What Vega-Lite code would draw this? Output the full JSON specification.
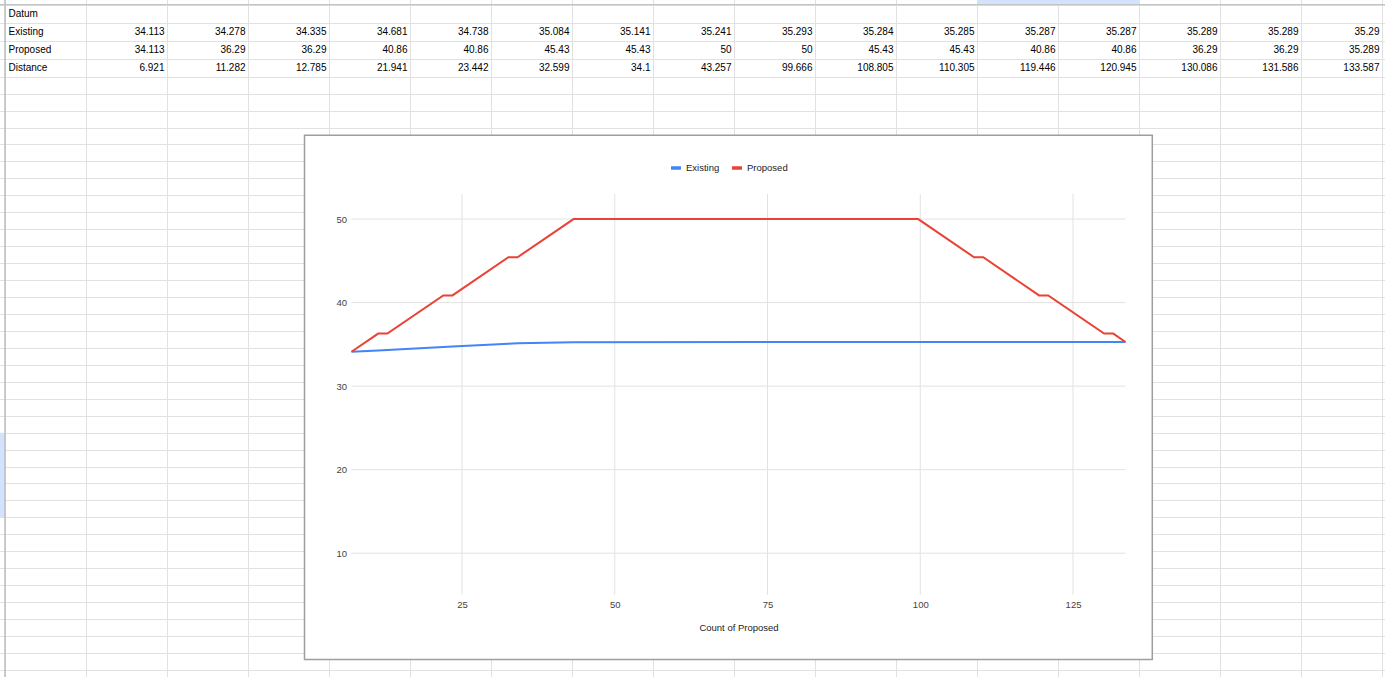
{
  "$schema": "https://vega.github.io/schema/vega-lite/v6.json",
  "width": 1385,
  "height": 677,
  "padding": 0,
  "autosize": {"type": "none"},
  "background": "white",
  "config": {"view": {"stroke": null}, "font": "Liberation Sans"},
  "datasets": {
    "points": [
      {"n": 1, "Distance": 6.921, "Existing": 34.113, "Proposed": 34.113},
      {"n": 2, "Distance": 11.282, "Existing": 34.278, "Proposed": 36.29},
      {"n": 3, "Distance": 12.785, "Existing": 34.335, "Proposed": 36.29},
      {"n": 4, "Distance": 21.941, "Existing": 34.681, "Proposed": 40.86},
      {"n": 5, "Distance": 23.442, "Existing": 34.738, "Proposed": 40.86},
      {"n": 6, "Distance": 32.599, "Existing": 35.084, "Proposed": 45.43},
      {"n": 7, "Distance": 34.1, "Existing": 35.141, "Proposed": 45.43},
      {"n": 8, "Distance": 43.257, "Existing": 35.241, "Proposed": 50},
      {"n": 9, "Distance": 99.666, "Existing": 35.293, "Proposed": 50},
      {"n": 10, "Distance": 108.805, "Existing": 35.284, "Proposed": 45.43},
      {"n": 11, "Distance": 110.305, "Existing": 35.285, "Proposed": 45.43},
      {"n": 12, "Distance": 119.446, "Existing": 35.287, "Proposed": 40.86},
      {"n": 13, "Distance": 120.945, "Existing": 35.287, "Proposed": 40.86},
      {"n": 14, "Distance": 130.086, "Existing": 35.289, "Proposed": 36.29},
      {"n": 15, "Distance": 131.586, "Existing": 35.289, "Proposed": 36.29},
      {"n": 16, "Distance": 133.587, "Existing": 35.29, "Proposed": 35.289}
    ],
    "labels": [
      {"row": 1, "label": "Datum"},
      {"row": 2, "label": "Existing"},
      {"row": 3, "label": "Proposed"},
      {"row": 4, "label": "Distance"}
    ],
    "xgrid": [{"v": 25}, {"v": 50}, {"v": 75}, {"v": 100}, {"v": 125}],
    "ygrid": [{"v": 10}, {"v": 20}, {"v": 30}, {"v": 40}, {"v": 50}]
  },
  "layer": [
    {
      "layer": [
        {
          "data": {"values": [{}]},
          "mark": {"type": "rect", "fill": "#d3e3fd"},
          "encoding": {
            "x": {"datum": 11, "type": "quantitative", "scale": {"domain": [-2, 17], "range": [-76, 1463], "zero": false, "nice": false}},
            "x2": {"datum": 13},
            "y": {"datum": 0, "type": "quantitative", "scale": {"domain": [0, 4.5, 40], "range": [-4.3, 76.7, 678.4], "zero": false, "nice": false}},
            "y2": {"datum": 0.5}
          }
        },
        {
          "data": {"values": [{}]},
          "mark": {"type": "rect", "fill": "#d3e3fd"},
          "encoding": {
            "x": {"datum": -2, "type": "quantitative"},
            "x2": {"datum": -1},
            "y": {"datum": 25.5, "type": "quantitative"},
            "y2": {"datum": 30.5}
          }
        },
        {
          "data": {"values": [{}]},
          "mark": {"type": "rule", "stroke": "#bdbdbd", "strokeWidth": 1.5},
          "encoding": {
            "x": {"datum": -1, "type": "quantitative"},
            "y": {"datum": 0, "type": "quantitative"},
            "y2": {"datum": 40}
          }
        },
        {
          "data": {"values": [{}]},
          "mark": {"type": "rule", "stroke": "#c4c4c4", "strokeWidth": 1.2},
          "encoding": {
            "x": {"datum": -2, "type": "quantitative"},
            "x2": {"datum": 17},
            "y": {"datum": 0.5, "type": "quantitative"}
          }
        },
        {
          "data": {"name": "labels"},
          "mark": {"type": "text", "align": "left", "baseline": "middle", "dx": 3.5, "fontSize": 10, "color": "#000000"},
          "encoding": {
            "x": {"datum": -1, "type": "quantitative",
              "axis": {"orient": "bottom", "values": [-1, 0, 1, 2, 3, 4, 5, 6, 7, 8, 9, 10, 11, 12, 13, 14, 15, 16], "tickCount": 200, "grid": true, "gridColor": "#e1e1e1", "gridWidth": 1, "labels": false, "ticks": false, "domain": false, "title": null, "zindex": 0}},
            "y": {"field": "row", "type": "quantitative",
              "axis": {"orient": "left", "values": [0.5, 1.5, 2.5, 3.5, 4.5, 5.5, 6.5, 7.5, 8.5, 9.5, 10.5, 11.5, 12.5, 13.5, 14.5, 15.5, 16.5, 17.5, 18.5, 19.5, 20.5, 21.5, 22.5, 23.5, 24.5, 25.5, 26.5, 27.5, 28.5, 29.5, 30.5, 31.5, 32.5, 33.5, 34.5, 35.5, 36.5, 37.5, 38.5, 39.5], "tickCount": 200, "grid": true, "gridColor": "#e1e1e1", "gridWidth": 1, "labels": false, "ticks": false, "domain": false, "title": null, "zindex": 0}},
            "text": {"field": "label", "type": "nominal"}
          }
        },
        {
          "data": {"name": "points"},
          "transform": [
            {"fold": ["Existing", "Proposed", "Distance"], "as": ["key", "value"]},
            {"lookup": "key", "from": {"data": {"name": "labels"}, "key": "label", "fields": ["row"]}}
          ],
          "mark": {"type": "text", "align": "right", "baseline": "middle", "dx": -2.5, "fontSize": 10, "color": "#000000"},
          "encoding": {
            "x": {"field": "n", "type": "quantitative"},
            "y": {"field": "row", "type": "quantitative"},
            "text": {"field": "value", "type": "nominal"}
          }
        }
      ]
    },
    {
      "layer": [
        {
          "data": {"values": [{}]},
          "mark": {"type": "rect", "fill": "white", "stroke": "#9e9e9e", "strokeWidth": 1.5},
          "encoding": {
            "x": {"datum": -0.771, "type": "quantitative", "scale": {"domain": [6.921, 133.587], "range": [351.5, 1125.5], "zero": false, "nice": false}},
            "x2": {"datum": 137.97},
            "y": {"datum": 60.03, "type": "quantitative", "scale": {"domain": [5, 53], "range": [595, 194], "zero": false, "nice": false}},
            "y2": {"datum": -2.72}
          }
        },
        {
          "data": {"name": "ygrid"},
          "mark": {"type": "rule", "stroke": "#e2e2e2", "strokeWidth": 1},
          "encoding": {
            "y": {"field": "v", "type": "quantitative"},
            "x": {"datum": 6.921, "type": "quantitative"},
            "x2": {"datum": 133.587}
          }
        },
        {
          "data": {"name": "xgrid"},
          "mark": {"type": "rule", "stroke": "#e2e2e2", "strokeWidth": 1},
          "encoding": {
            "x": {"field": "v", "type": "quantitative"},
            "y": {"datum": 5, "type": "quantitative"},
            "y2": {"datum": 53}
          }
        },
        {
          "data": {"name": "points"},
          "transform": [{"fold": ["Existing", "Proposed"], "as": ["key", "value"]}],
          "mark": {"type": "line", "strokeWidth": 2},
          "encoding": {
            "x": {"field": "Distance", "type": "quantitative",
              "axis": {"orient": "bottom", "offset": -82, "values": [25, 50, 75, 100, 125], "grid": false, "domain": false, "ticks": false, "labelPadding": 4, "labelFontSize": 9.5, "labelColor": "#444444", "labelFont": "Liberation Sans", "title": "Count of Proposed", "titleFont": "Liberation Sans", "titleFontSize": 9.5, "titleFontWeight": "normal", "titleColor": "#222222", "titlePadding": 14, "zindex": 1}},
            "y": {"field": "value", "type": "quantitative",
              "axis": {"orient": "left", "offset": -351.5, "values": [10, 20, 30, 40, 50], "grid": false, "domain": false, "ticks": false, "labelPadding": 5, "labelFontSize": 9.5, "labelColor": "#444444", "labelFont": "Liberation Sans", "title": null, "zindex": 1}},
            "color": {"field": "key", "type": "nominal",
              "scale": {"domain": ["Existing", "Proposed"], "range": ["#4285f4", "#ea4335"]},
              "legend": {"orient": "none", "legendX": 669, "legendY": 161, "direction": "horizontal", "title": null, "symbolType": "stroke", "symbolSize": 100, "symbolStrokeWidth": 3.5, "labelFontSize": 9.5, "labelFont": "Liberation Sans", "labelColor": "#222222", "labelOffset": 3, "columnPadding": 5, "gridAlign": "none", "padding": 0}}
          }
        }
      ]
    }
  ],
  "resolve": {
    "scale": {"x": "independent", "y": "independent"},
    "axis": {"x": "independent", "y": "independent"}
  }
}
